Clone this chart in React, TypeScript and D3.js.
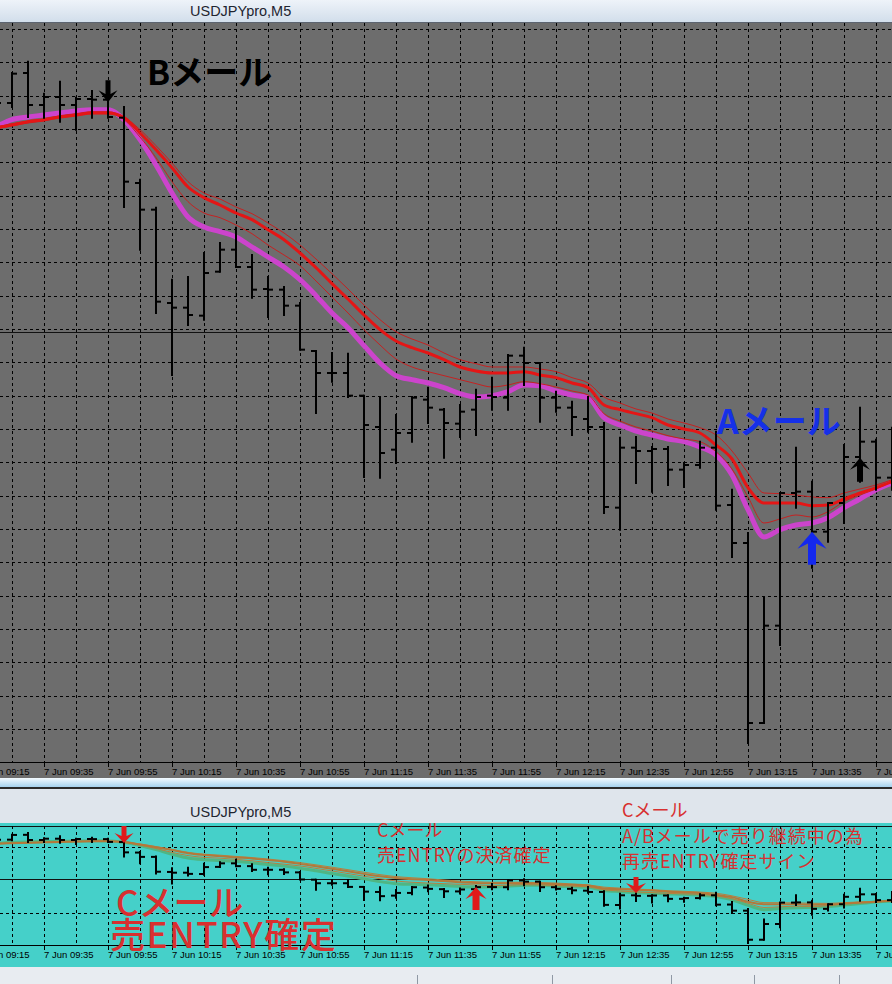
import React from 'react';
import * as d3 from 'd3';

// USDJPY M5, 7 Jun — one value per bar, oldest first
const opens = [110.251, 110.239, 110.284, 110.236, 110.248, 110.236, 110.245, 110.244, 110.217, 110.119,
  110.079, 109.939, 109.932, 109.920, 109.986, 110.019, 109.993, 109.960, 109.959, 109.935,
  109.867, 109.834, 109.834, 109.800, 109.753, 109.719, 109.744, 109.794, 109.779, 109.758,
  109.779, 109.800, 109.797, 109.860, 109.849, 109.797, 109.782, 109.765, 109.753, 109.632,
  109.722, 109.717, 109.720, 109.689, 109.696, 109.722, 109.636, 109.579, 109.309, 109.455,
  109.654, 109.656, 109.596, 109.639, 109.708, 109.731, 109.677];
const highs = [110.266, 110.284, 110.301, 110.253, 110.271, 110.247, 110.257, 110.247, 110.233, 110.124,
  110.082, 109.974, 109.978, 110.014, 110.029, 110.052, 110.011, 109.978, 109.963, 109.939,
  109.867, 109.864, 109.863, 109.800, 109.797, 109.771, 109.798, 109.812, 109.780, 109.786,
  109.809, 109.827, 109.861, 109.872, 109.849, 109.806, 109.791, 109.798, 109.759, 109.737,
  109.738, 109.723, 109.723, 109.699, 109.731, 109.746, 109.659, 109.594, 109.497, 109.654,
  109.722, 109.671, 109.639, 109.726, 109.782, 109.734, 109.752];
const lows = [110.229, 110.233, 110.218, 110.217, 110.211, 110.199, 110.217, 110.217, 110.083, 110.019,
  109.924, 109.831, 109.906, 109.914, 109.986, 109.993, 109.947, 109.918, 109.921, 109.869,
  109.774, 109.821, 109.798, 109.678, 109.677, 109.699, 109.731, 109.759, 109.707, 109.738,
  109.741, 109.779, 109.779, 109.816, 109.761, 109.776, 109.741, 109.746, 109.624, 109.599,
  109.669, 109.656, 109.666, 109.663, 109.692, 109.629, 109.558, 109.279, 109.309, 109.426,
  109.632, 109.542, 109.581, 109.609, 109.671, 109.659, 109.659];
const closes = [110.239, 110.283, 110.236, 110.248, 110.236, 110.245, 110.244, 110.218, 110.121, 110.079,
  109.941, 109.932, 109.921, 109.984, 110.019, 109.993, 109.959, 109.959, 109.935, 109.869,
  109.834, 109.834, 109.800, 109.756, 109.714, 109.744, 109.797, 109.782, 109.759, 109.776,
  109.798, 109.798, 109.860, 109.849, 109.797, 109.782, 109.768, 109.753, 109.633, 109.722,
  109.717, 109.720, 109.689, 109.696, 109.722, 109.635, 109.579, 109.309, 109.455, 109.654,
  109.656, 109.596, 109.639, 109.708, 109.731, 109.677, 109.689];

// moving averages
const maMid = [110.202, 110.206, 110.211, 110.214, 110.218, 110.221, 110.224, 110.224, 110.217, 110.194,
  110.169, 110.142, 110.113, 110.097, 110.086, 110.074, 110.064, 110.049, 110.034, 110.014,
  109.992, 109.968, 109.945, 109.921, 109.899, 109.882, 109.872, 109.864, 109.854, 109.843,
  109.837, 109.834, 109.834, 109.836, 109.831, 109.827, 109.819, 109.812, 109.786, 109.779,
  109.773, 109.767, 109.756, 109.750, 109.744, 109.726, 109.705, 109.662, 109.639, 109.639,
  109.639, 109.635, 109.636, 109.645, 109.654, 109.662, 109.671];
const maUpper = [110.203, 110.208, 110.212, 110.215, 110.220, 110.223, 110.226, 110.226, 110.218, 110.199,
  110.175, 110.149, 110.121, 110.104, 110.095, 110.083, 110.073, 110.059, 110.044, 110.026,
  110.005, 109.983, 109.960, 109.936, 109.914, 109.896, 109.885, 109.876, 109.864, 109.854,
  109.848, 109.843, 109.843, 109.843, 109.840, 109.836, 109.827, 109.819, 109.798, 109.789,
  109.780, 109.774, 109.765, 109.759, 109.752, 109.741, 109.717, 109.684, 109.654, 109.653,
  109.651, 109.648, 109.647, 109.654, 109.660, 109.666, 109.674];
const maLower = [110.200, 110.205, 110.209, 110.212, 110.217, 110.220, 110.223, 110.223, 110.214, 110.188,
  110.157, 110.121, 110.091, 110.074, 110.067, 110.056, 110.043, 110.026, 110.011, 109.995,
  109.972, 109.948, 109.924, 109.899, 109.876, 109.855, 109.843, 109.836, 109.830, 109.824,
  109.818, 109.813, 109.816, 109.821, 109.818, 109.813, 109.807, 109.801, 109.773, 109.762,
  109.753, 109.747, 109.740, 109.735, 109.731, 109.716, 109.690, 109.648, 109.609, 109.615,
  109.621, 109.618, 109.626, 109.641, 109.651, 109.660, 109.671];
const maSlow = [110.203, 110.214, 110.218, 110.221, 110.224, 110.227, 110.229, 110.229, 110.214, 110.184,
  110.146, 110.104, 110.068, 110.053, 110.046, 110.038, 110.023, 110.008, 109.993, 109.974,
  109.950, 109.924, 109.902, 109.875, 109.849, 109.830, 109.824, 109.819, 109.812, 109.803,
  109.798, 109.800, 109.806, 109.816, 109.815, 109.807, 109.801, 109.797, 109.767, 109.756,
  109.747, 109.741, 109.735, 109.731, 109.723, 109.711, 109.681, 109.629, 109.588, 109.599,
  109.606, 109.609, 109.617, 109.632, 109.645, 109.659, 109.669];

// time labels, one every 4 bars starting one bar left of the view
const tickLabels = ['7 Jun 09:15', '7 Jun 09:35', '7 Jun 09:55', '7 Jun 10:15', '7 Jun 10:35',
  '7 Jun 10:55', '7 Jun 11:15', '7 Jun 11:35', '7 Jun 11:55', '7 Jun 12:15', '7 Jun 12:35',
  '7 Jun 12:55', '7 Jun 13:15', '7 Jun 13:35', '7 Jun 13:55'];

const bidMain = 109.895;
const bidSub = 109.873;
const subGrid = [110.171, 109.557];

// signal arrows
const mainSignals = [
  { bar: 7, dir: 'down', price: 110.240 },
  { bar: 51, dir: 'up', price: 109.596 },
  { bar: 54, dir: 'up', price: 109.707 },
];
const mainArrowStyle = [
  { color: '#000', len: 22, headW: 19, headH: 12, stem: 5 },
  { color: '#1428ee', len: 33, headW: 29, headH: 17, stem: 8 },
  { color: '#000', len: 24, headW: 20, headH: 12, stem: 6 },
];
const subSignals = [
  { bar: 8, dir: 'down', price: 110.208 },
  { bar: 30, dir: 'up', price: 109.799 },
  { bar: 40, dir: 'down', price: 109.743 },
];
const subArrowStyle = [
  { color: '#e01a1a', len: 17, headW: 19, headH: 10, stem: 5 },
  { color: '#e01a1a', len: 23, headW: 21, headH: 12, stem: 7 },
  { color: '#e01a1a', len: 16, headW: 20, headH: 10, stem: 5 },
];

const CJK = '"Noto Sans CJK JP", "Noto Sans", sans-serif';

function arrowPath(cx: number, tipY: number, dir: string, s: { len: number; headW: number; headH: number; stem: number }) {
  const k = dir === 'up' ? 1 : -1;
  const notch = s.headH * 0.3;
  const p = d3.path();
  p.moveTo(cx, tipY);
  p.lineTo(cx + s.headW / 2, tipY + k * s.headH);
  p.lineTo(cx + s.stem / 2, tipY + k * (s.headH - notch));
  p.lineTo(cx + s.stem / 2, tipY + k * s.len);
  p.lineTo(cx - s.stem / 2, tipY + k * s.len);
  p.lineTo(cx - s.stem / 2, tipY + k * (s.headH - notch));
  p.lineTo(cx - s.headW / 2, tipY + k * s.headH);
  p.closePath();
  return p.toString();
}

export default function App() {
  const x = d3.scaleLinear().domain([0, 56]).range([-4, 892]);
  const yMain = d3.scaleLinear().domain([109.25, 110.35]).range([762.33, 29]);
  const ySub = d3.scaleLinear().domain([109.26, 110.366]).range([945, 826]);

  const idx = d3.range(opens.length);
  const gridIdx = d3.range(1, opens.length, 2);
  const labelIdx = tickLabels.map((_, k) => -1 + 4 * k);
  const mainGrid = yMain.ticks(22).filter(t => t > 109.26);

  const lineOf = (y: d3.ScaleLinear<number, number>, vals: number[]) =>
    d3.line<number>().x((_, i) => x(i)).y(v => y(v)).curve(d3.curveMonotoneX)(vals) || '';

  const renderBars = (y: d3.ScaleLinear<number, number>, tick: number) =>
    idx.map(i => (
      <g key={i} stroke="#000" strokeWidth={2}>
        <line x1={x(i)} x2={x(i)} y1={y(highs[i]) - 1} y2={y(lows[i]) + 1} />
        <line x1={x(i) - tick} x2={x(i)} y1={y(opens[i])} y2={y(opens[i])} />
        <line x1={x(i)} x2={x(i) + tick} y1={y(closes[i])} y2={y(closes[i])} />
      </g>
    ));

  const renderAxis = (axisY: number, top: number) => (
    <g>
      {gridIdx.map(i => (
        <line key={'v' + i} x1={x(i) + 0.5} x2={x(i) + 0.5} y1={top} y2={axisY}
          stroke="#000" strokeDasharray="3,3" />
      ))}
      <line x1={0} x2={892} y1={axisY + 0.5} y2={axisY + 0.5} stroke="#000" />
      {labelIdx.map((i, k) => (
        <g key={'l' + k}>
          <line x1={x(i) + 0.5} x2={x(i) + 0.5} y1={axisY} y2={axisY + 5} stroke="#000" />
          <text x={x(i)} y={axisY + 12.5} fontSize={9.5} fill="#000"
            fontFamily='"Liberation Sans", Arial, sans-serif'>{tickLabels[k]}</text>
        </g>
      ))}
    </g>
  );

  return (
    <svg width={892} height={984} style={{ position: 'absolute', left: 0, top: 0, display: 'block' }}>
      <defs>
        <linearGradient id="titleGrad" x1="0" y1="0" x2="0" y2="1">
          <stop offset="0" stopColor="#eef3f9" />
          <stop offset="1" stopColor="#d2deeb" />
        </linearGradient>
        <linearGradient id="sepGrad" x1="0" y1="0" x2="0" y2="1">
          <stop offset="0" stopColor="#f4fbff" />
          <stop offset="1" stopColor="#a6d2ee" />
        </linearGradient>
        <clipPath id="clipMain"><rect x={0} y={23} width={892} height={739} /></clipPath>
        <clipPath id="clipSub"><rect x={0} y={826} width={892} height={119} /></clipPath>
      </defs>

      {/* window frames */}
      <rect x={0} y={0} width={892} height={22} fill="url(#titleGrad)" />
      <line x1={0} x2={892} y1={22.5} y2={22.5} stroke="#5c6470" />
      <rect x={0} y={23} width={892} height={755} fill="#6d6d6d" />
      <rect x={0} y={778} width={892} height={9} fill="url(#sepGrad)" />
      <rect x={0} y={787} width={892} height={2} fill="#2b2b2b" />
      <rect x={0} y={789} width={892} height={34} fill="#dfe5ec" />
      <rect x={0} y={823} width={892} height={144} fill="#45d0c9" />
      <rect x={0} y={967} width={892} height={17} fill="#e8ecf1" />
      {[417, 552, 671, 754, 839].map(sx => (
        <line key={sx} x1={sx + 0.5} x2={sx + 0.5} y1={975} y2={984} stroke="#8f98a4" />
      ))}
      <text x={190} y={16} fontSize={14.5} fill="#1e2530" fontFamily='"Liberation Sans", Arial, sans-serif'>USDJPYpro,M5</text>
      <text x={190} y={817} fontSize={14.5} fill="#1e2530" fontFamily='"Liberation Sans", Arial, sans-serif'>USDJPYpro,M5</text>

      {/* main panel */}
      <g>
        {mainGrid.map(t => (
          <line key={t} x1={0} x2={892} y1={Math.round(yMain(t)) + 0.5} y2={Math.round(yMain(t)) + 0.5}
            stroke="#000" strokeDasharray="3,3" />
        ))}
        {renderAxis(762, 23)}
        <line x1={0} x2={892} y1={Math.round(yMain(bidMain)) + 0.5} y2={Math.round(yMain(bidMain)) + 0.5} stroke="#111" />
        <g clipPath="url(#clipMain)" fill="none">
          <path d={lineOf(yMain, maSlow)} stroke="#cc44cc" strokeWidth={5} />
          <path d={lineOf(yMain, maUpper)} stroke="#c42222" strokeWidth={1} />
          <path d={lineOf(yMain, maLower)} stroke="#c42222" strokeWidth={1} />
          <path d={lineOf(yMain, maMid)} stroke="#e41616" strokeWidth={3} />
          {renderBars(yMain, 5)}
        </g>
        {mainSignals.map((s, k) => (
          <path key={k} d={arrowPath(x(s.bar), yMain(s.price), s.dir, mainArrowStyle[k])} fill={mainArrowStyle[k].color} />
        ))}
        <text x={147} y={85} fontSize={34} fontWeight={700} fill="#000" fontFamily={CJK}>Bメール</text>
        <text x={717} y={434} fontSize={34} fontWeight={700} fill="#1530e8" fontFamily={CJK}>Aメール</text>
      </g>

      {/* sub panel */}
      <g>
        <line x1={0} x2={892} y1={826.5} y2={826.5} stroke="#111" />
        {subGrid.map(t => (
          <line key={t} x1={0} x2={892} y1={Math.round(ySub(t)) + 0.5} y2={Math.round(ySub(t)) + 0.5}
            stroke="#000" strokeDasharray="3,3" />
        ))}
        {renderAxis(945, 826)}
        <line x1={0} x2={892} y1={Math.round(ySub(bidSub)) + 0.5} y2={Math.round(ySub(bidSub)) + 0.5} stroke="#111" />
        <g clipPath="url(#clipSub)" fill="none">
          <path d={lineOf(ySub, maSlow)} stroke="#4fb684" strokeWidth={3} />
          <path d={lineOf(ySub, maLower)} stroke="#b8803e" strokeWidth={1} />
          <path d={lineOf(ySub, maUpper)} stroke="#b8803e" strokeWidth={1} />
          <path d={lineOf(ySub, maMid)} stroke="#b4783a" strokeWidth={2} />
          {renderBars(ySub, 5)}
        </g>
        {subSignals.map((s, k) => (
          <path key={k} d={arrowPath(x(s.bar), ySub(s.price), s.dir, subArrowStyle[k])} fill={subArrowStyle[k].color} />
        ))}
        <g fill="#d83030" fontFamily={CJK}>
          <text x={116} y={916} fontSize={35} fontWeight={500}>Cメール</text>
          <text x={110} y={948} fontSize={35} fontWeight={500} letterSpacing={1.5}>売ENTRY確定</text>
          <text x={377} y={837} fontSize={18}>Cメール</text>
          <text x={377} y={862} fontSize={18} letterSpacing={1}>売ENTRYの決済確定</text>
          <text x={622} y={817} fontSize={18}>Cメール</text>
          <text x={622} y={843} fontSize={18} letterSpacing={1}>A/Bメールで売り継続中の為</text>
          <text x={622} y={868} fontSize={18} letterSpacing={1}>再売ENTRY確定サイン</text>
        </g>
      </g>
    </svg>
  );
}
